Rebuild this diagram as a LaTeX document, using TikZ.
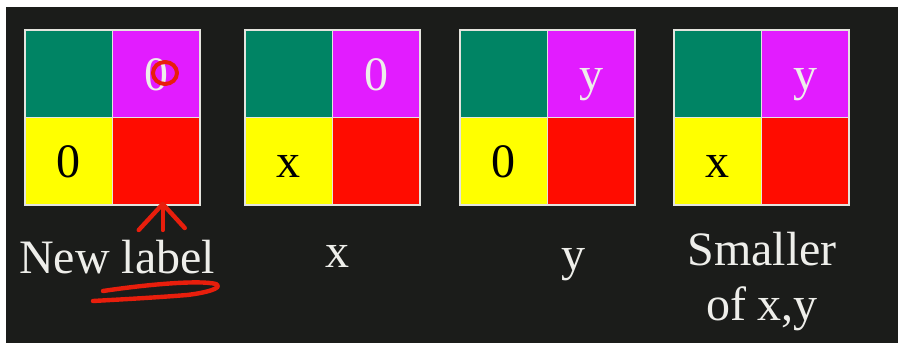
\documentclass[tikz,border=0pt]{standalone}
\usepackage{fontspec}
\setmainfont{Liberation Serif}
\usetikzlibrary{calc}
\definecolor{bg}{RGB}{27,28,26}
\definecolor{cgreen}{RGB}{0,132,100}
\definecolor{cmag}{RGB}{226,28,255}
\definecolor{cyel}{RGB}{255,255,0}
\definecolor{cred}{RGB}{255,12,0}
\definecolor{cline}{RGB}{228,228,222}
\definecolor{ctext}{RGB}{238,238,234}
\definecolor{pen}{RGB}{232,30,12}
\begin{document}
\begin{tikzpicture}[x=1pt,y=-1pt,
  cell/.style={draw=cline, line width=1.2pt, minimum width=87.5pt, minimum height=87.5pt,
    inner sep=0pt, outer sep=0pt, anchor=north west, font=\fontsize{48}{52}\selectfont,
    text height=33pt, text depth=0pt},
  gcell/.style={cell, fill=cgreen},
  mcell/.style={cell, fill=cmag, text=ctext},
  ycell/.style={cell, fill=cyel, text=black},
  rcell/.style={cell, fill=cred},
  lab/.style={anchor=base, text=ctext, inner sep=0pt, font=\fontsize{48}{52}\selectfont},
  penline/.style={draw=pen, line width=4.4pt, line cap=round, line join=round}]
\fill[white] (0,0) rectangle (898,343);
\fill[bg] (6,7) rectangle (898,343);
% box 1
\node[gcell] (g1) at (25,30) {};
\node[mcell] (m1) at (g1.north east) {0};
\node[ycell] (y1) at (g1.south west) {0};
\node[rcell] (r1) at (g1.south east) {};
% box 2
\node[gcell] (g2) at (245,30) {};
\node[mcell] (m2) at (g2.north east) {0};
\node[ycell] (y2) at (g2.south west) {x};
\node[rcell] (r2) at (g2.south east) {};
% box 3
\node[gcell] (g3) at (460,30) {};
\node[mcell] (m3) at (g3.north east) {y};
\node[ycell] (y3) at (g3.south west) {0};
\node[rcell] (r3) at (g3.south east) {};
% box 4
\node[gcell] (g4) at (674,30) {};
\node[mcell] (m4) at (g4.north east) {y};
\node[ycell] (y4) at (g4.south west) {x};
\node[rcell] (r4) at (g4.south east) {};
% labels
\node[lab] (l1) at (117,273) {New label};
\node[lab] (l2) at (337,267) {x};
\node[lab] (l3) at (573,270) {y};
\node[lab] (l4a) at (762,265) {Smaller};
\node[lab] (l4b) at (762,320) {of x,y};
% hand-drawn marks
\draw[penline, line width=4pt] (165,73) ellipse (12pt and 11pt);
\coordinate (tip) at ($(r1.south)+(6.5,-1)$);
\coordinate (stem) at ($(tip)+(0,26)$);
\coordinate (lb) at ($(tip)+(-24,26)$);
\coordinate (rb) at ($(tip)+(22,24)$);
\draw[penline] (stem) -- (tip);
\draw[penline] (lb) -- (tip) -- (rb);
\draw[penline] (103,291) .. controls (150,284) and (200,280) .. (216,284)
  .. controls (224,288) and (205,293) .. (187,295)
  .. controls (150,298) and (110,300) .. (93,301);
\end{tikzpicture}
\end{document}
